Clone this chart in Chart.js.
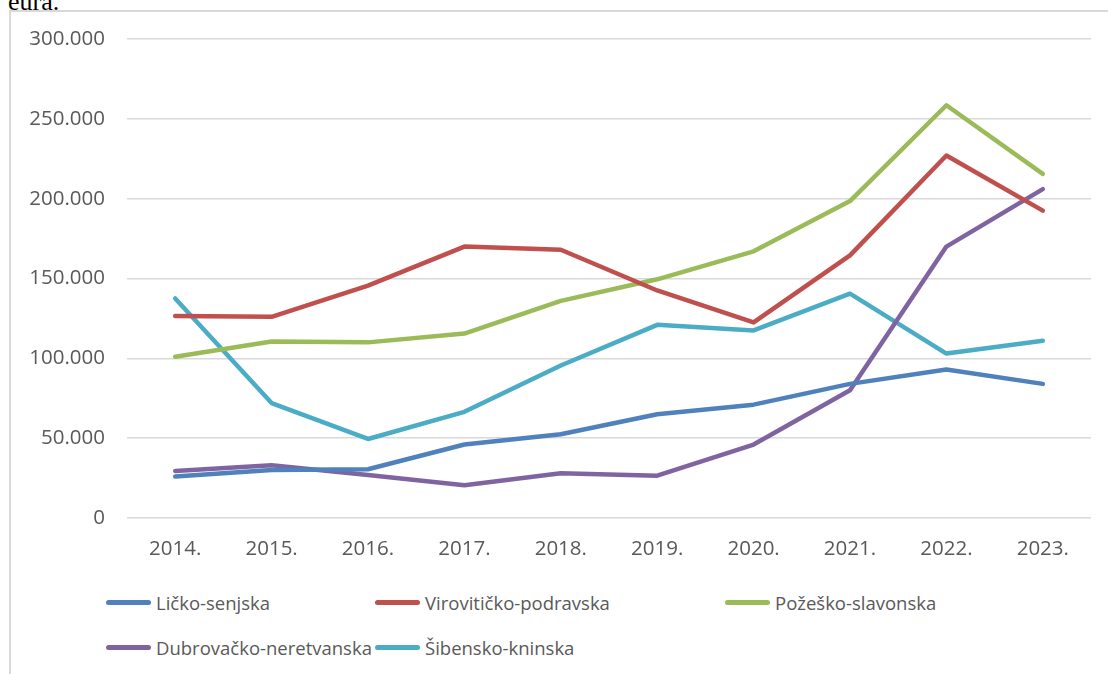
<!DOCTYPE html>
<html>
<head>
<meta charset="utf-8">
<script src="https://cdn.jsdelivr.net/npm/chart.js@4"></script>
<style>
    body { margin: 0; width: 1108px; height: 674px; overflow: hidden; background: #fff; position: relative; }
    .caption { position: absolute; left: 8px; top: -13px; font-family: "Liberation Serif", serif; font-size: 26px; color: #000; }
    .frame { position: absolute; left: 9px; top: 10px; width: 1110px; height: 700px; border-left: 2px solid #d9d9d9; border-top: 2px solid #d9d9d9; box-sizing: border-box; }
    #chartWrap { position: absolute; left: 0; top: 0; width: 1108px; height: 575px; }
    .legend { position: absolute; left: 0; top: 0; font-family: "Open Sans", sans-serif; font-size: 18.5px; color: #595959; }
    .legend-item { position: absolute; display: flex; align-items: center; white-space: nowrap; }
    .legend-line { width: 45px; height: 5px; border-radius: 3px; margin-right: 5px; }
</style>
</head>
<body>
<div class="caption">eura.</div>
<div class="frame"></div>
<div id="chartWrap"><canvas id="lineChart"></canvas></div>
<div class="legend" id="legend"></div>

<script>
// =========================================================================
// DỮ LIỆU (DATA)
// =========================================================================

const years = ['2014.', '2015.', '2016.', '2017.', '2018.', '2019.', '2020.', '2021.', '2022.', '2023.'];

const likoSenjska        = [26000, 30000, 30500, 46000, 52500, 65000, 71000, 84000, 93000, 84000];
const viroviticko        = [126500, 126000, 145500, 170000, 168000, 142500, 122500, 164500, 227000, 192500];
const pozesko            = [101000, 110500, 110000, 115500, 136000, 149500, 167000, 198500, 258500, 215500];
const dubrovacko         = [29500, 33000, 27000, 20500, 28000, 26500, 46000, 80000, 170000, 206000];
const sibensko           = [137500, 72000, 49500, 66500, 95500, 121000, 117500, 140500, 103000, 111000];

const seriesNames  = ['Ličko-senjska', 'Virovitičko-podravska', 'Požeško-slavonska', 'Dubrovačko-neretvanska', 'Šibensko-kninska'];
const seriesColors = ['#4F81BD', '#C0504D', '#9BBB59', '#8064A2', '#4BACC6'];
const yTicks       = [0, 50000, 100000, 150000, 200000, 250000, 300000];

// Vị trí chú thích (legend) theo kiểu Excel: 2 hàng
const legendSlots = [
    { left: 106, top: 590 },
    { left: 375, top: 590 },
    { left: 725, top: 590 },
    { left: 106, top: 635 },
    { left: 375, top: 635 }
];

// =========================================================================
// HÀM TIỆN ÍCH
// =========================================================================

function formatThousands(value) {
    if (value === 0) return '0';
    return value.toString().replace(/\B(?=(\d{3})+(?!\d))/g, '.');
}

function buildDatasets() {
    const allData = [likoSenjska, viroviticko, pozesko, dubrovacko, sibensko];
    return allData.map((data, i) => ({
        label: seriesNames[i],
        data: data,
        borderColor: seriesColors[i],
        backgroundColor: seriesColors[i],
        borderWidth: 4.5,
        pointRadius: 0,
        tension: 0,
        borderCapStyle: 'round',
        borderJoinStyle: 'round'
    }));
}

function renderLegend(datasets) {
    const legendEl = document.getElementById('legend');
    legendEl.innerHTML = datasets.map((ds, i) => `
        <div class="legend-item" style="left:${legendSlots[i].left}px; top:${legendSlots[i].top}px;">
            <div class="legend-line" style="background:${ds.borderColor}"></div>
            <span>${ds.label}</span>
        </div>
    `).join('');
}

// =========================================================================
// BIỂU ĐỒ
// =========================================================================

const datasets = buildDatasets();
const fontStyle = { family: '"Open Sans", sans-serif', size: 20.5 };

new Chart(document.getElementById('lineChart').getContext('2d'), {
    type: 'line',
    data: { labels: years, datasets: datasets },
    options: {
        responsive: true,
        maintainAspectRatio: false,
        animation: false,
        layout: { padding: { left: 0, top: 39, right: 17, bottom: 0 } },
        plugins: {
            legend: { display: false },
            tooltip: { enabled: false }
        },
        scales: {
            x: {
                offset: true,
                grid: { display: false, drawTicks: false },
                border: { display: false },
                ticks: { color: '#595959', font: fontStyle, padding: 19, maxRotation: 0, autoSkip: false },
                afterFit: (scale) => { scale.height = 57; }
            },
            y: {
                min: 0,
                max: 300000,
                afterBuildTicks: (scale) => { scale.ticks = yTicks.map(v => ({ value: v })); },
                grid: { color: '#d9d9d9', lineWidth: 1.5, drawTicks: false },
                border: { display: false },
                ticks: {
                    color: '#595959',
                    font: fontStyle,
                    padding: 22,
                    callback: (value) => formatThousands(value)
                },
                afterFit: (scale) => { scale.width = 127; }
            }
        }
    }
});

renderLegend(datasets);
</script>
</body>
</html>
